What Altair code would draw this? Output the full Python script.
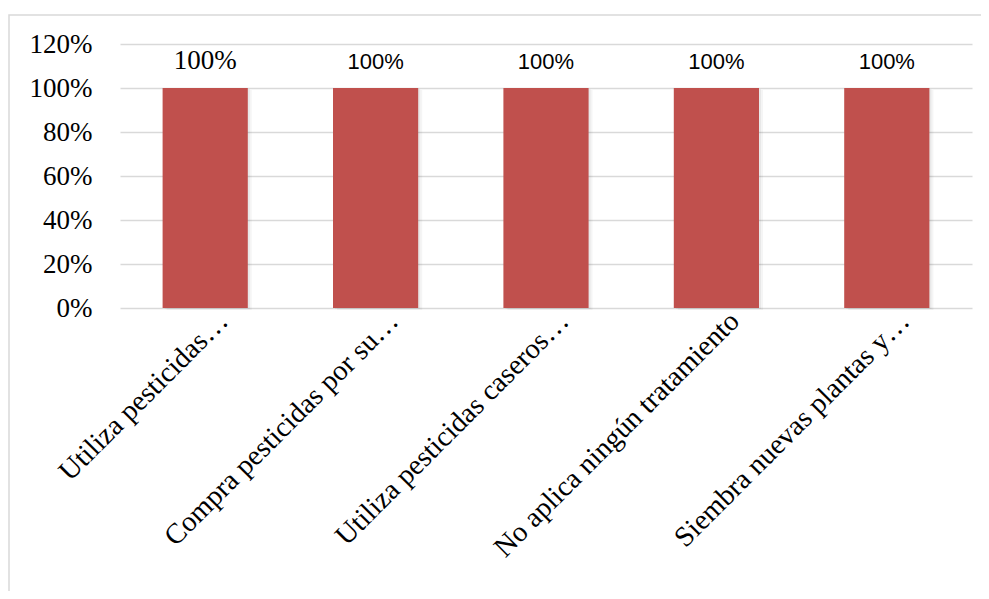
import altair as alt
import pandas as pd

categories = [
    "Utiliza pesticidas…",
    "Compra pesticidas por su…",
    "Utiliza pesticidas caseros…",
    "No aplica ningún tratamiento",
    "Siembra nuevas plantas y…",
]
values = [1.0, 1.0, 1.0, 1.0, 1.0]
y_ticks = [0, 0.2, 0.4, 0.6, 0.8, 1.0, 1.2]

df = pd.DataFrame({"cat": categories, "val": values})
df["idx"] = range(len(df))
frame = pd.DataFrame({"a": [0]})

W, H = 852, 264

x_enc = alt.X(
    "cat:N",
    sort=categories,
    scale=alt.Scale(paddingInner=0.5, paddingOuter=0.25),
    axis=alt.Axis(
        title=None,
        labelAngle=-45,
        labelAlign="right",
        labelBaseline="middle",
        labelFont="Liberation Serif",
        labelFontSize=28.5,
        labelColor="#000000",
        labelOffset=18,
        labelPadding=8,
        ticks=False,
        domain=False,
        grid=False,
        labelLimit=0,
    ),
)
y_enc = alt.Y(
    "val:Q",
    scale=alt.Scale(domain=[0, 1.2], nice=False),
    axis=alt.Axis(
        title=None,
        values=y_ticks,
        format=".0%",
        labelFont="Liberation Serif",
        labelFontSize=27,
        labelColor="#000000",
        labelPadding=28,
        ticks=False,
        domain=False,
        gridColor="#D9D9D9",
        gridWidth=1.5,
    ),
)

base = alt.Chart(df)

shadow1 = base.mark_bar(color="#000000", opacity=0.05, xOffset=2, yOffset=1, y2Offset=1).encode(
    x=x_enc, y=y_enc
)
shadow2 = base.mark_bar(color="#000000", opacity=0.04, xOffset=4, yOffset=2, y2Offset=2).encode(
    x=x_enc, y=y_enc
)
bars = base.mark_bar(color="#C0504D").encode(x=x_enc, y=y_enc)

lab_serif = base.transform_filter(alt.datum.idx == 0).mark_text(
    font="Liberation Serif", fontSize=27, baseline="alphabetic", dy=-19, color="#000000"
).encode(x=x_enc, y=y_enc, text=alt.Text("val:Q", format=".0%"))

lab_sans = base.transform_filter(alt.datum.idx > 0).mark_text(
    font="Liberation Sans", fontSize=22, baseline="alphabetic", dy=-19, color="#000000"
).encode(x=x_enc, y=y_enc, text=alt.Text("val:Q", format=".0%"))

border = alt.Chart(frame).mark_rect(
    fill=None, stroke="#D9D9D9", strokeWidth=1.5, clip=False
).encode(
    x=alt.value(-111), x2=alt.value(W + 60), y=alt.value(-29), y2=alt.value(H + 400)
)

chart = (
    alt.layer(border, shadow2, shadow1, bars, lab_serif, lab_sans)
    .properties(
        width=W,
        height=H,
        background="#FFFFFF",
        autosize=alt.AutoSizeParams(type="none"),
        padding={"left": 112, "top": 36, "right": 9, "bottom": 283},
    )
    .configure_view(strokeWidth=0, stroke="transparent")
)

chart.save("out.html", embed_options={"renderer": "svg", "actions": False})
